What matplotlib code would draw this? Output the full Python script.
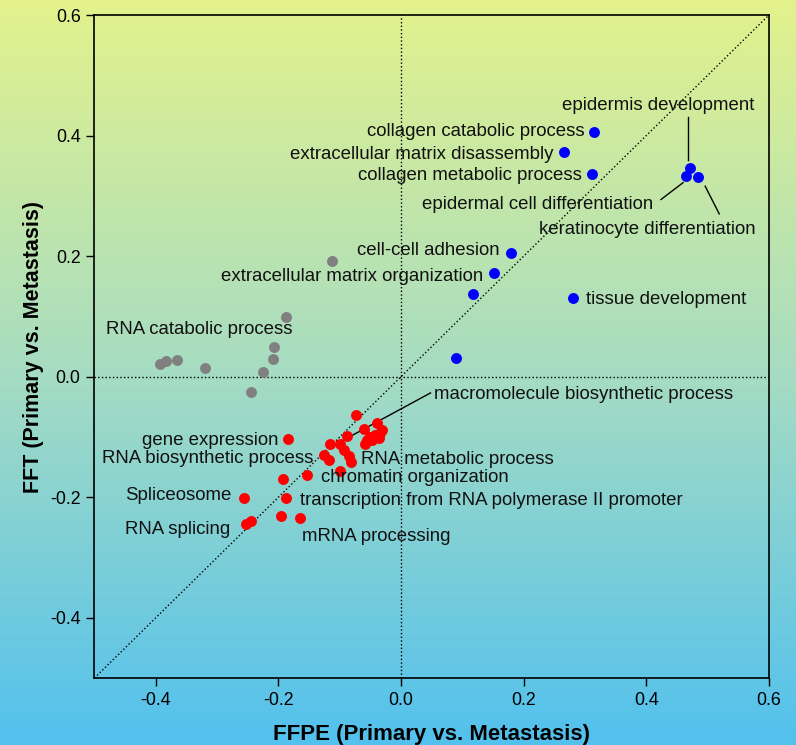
import numpy as np
import matplotlib.pyplot as plt
from matplotlib.colors import LinearSegmentedColormap

plt.rcParams['font.family'] = ['Liberation Sans', 'DejaVu Sans']

# up-regulated (blue), unchanged-ish (grey), down-regulated (red) GO terms
blue_x = [0.315, 0.265, 0.312, 0.471, 0.465, 0.484, 0.179, 0.152, 0.117, 0.281, 0.090]
blue_y = [0.406, 0.373, 0.337, 0.346, 0.333, 0.331, 0.205, 0.172, 0.137, 0.130, 0.031]

grey_x = [-0.393, -0.384, -0.366, -0.319, -0.188, -0.207, -0.209, -0.225, -0.245, -0.112]
grey_y = [0.021, 0.026, 0.028, 0.014, 0.099, 0.049, 0.030, 0.008, -0.025, 0.192]

red_x = [-0.073, -0.185, -0.088, -0.116, -0.100, -0.093, -0.125, -0.118, -0.085, -0.081,
         -0.099, -0.154, -0.192, -0.187, -0.256, -0.196, -0.164, -0.253, -0.244,
         -0.061, -0.039, -0.031, -0.050, -0.042, -0.034, -0.058, -0.047, -0.036, -0.055]
red_y = [-0.064, -0.104, -0.099, -0.112, -0.112, -0.122, -0.130, -0.138, -0.132, -0.141,
         -0.157, -0.163, -0.169, -0.202, -0.201, -0.232, -0.234, -0.245, -0.240,
         -0.086, -0.077, -0.089, -0.100, -0.097, -0.094, -0.111, -0.105, -0.102, -0.105]

xticks = [-0.4, -0.2, 0.0, 0.2, 0.4, 0.6]
yticks = [-0.4, -0.2, 0.0, 0.2, 0.4, 0.6]

fig = plt.figure(figsize=(7.96, 7.45), dpi=100)

# background gradient over the whole figure
bg = fig.add_axes([0, 0, 1, 1], zorder=-1)
cmap = LinearSegmentedColormap.from_list('bg', ['#e3f28c', '#a6dcc2', '#52c1ee'])
grad = np.linspace(0, 1, 256).reshape(-1, 1)
bg.imshow(grad, aspect='auto', cmap=cmap, extent=[0, 1, 0, 1], origin='upper')
bg.axis('off')

ax = fig.add_axes([0.1187, 0.0899, 0.8473, 0.8899])
ax.patch.set_alpha(0)

ax.axvline(0, color='black', ls=':', lw=1, zorder=1)
ax.axhline(0, color='black', ls=':', lw=1, zorder=1)
ax.plot([-0.5, 0.6], [-0.5, 0.6], color='black', ls=':', lw=1, zorder=1)

ax.scatter(grey_x, grey_y, s=62, color='#808080', lw=0, zorder=3)
ax.scatter(blue_x, blue_y, s=62, color='#0000ff', lw=0, zorder=3)
ax.scatter(red_x, red_y, s=62, color='#ff0000', lw=0, zorder=3)

fs = 13.4
labels = [
    ('epidermis development', 0.419, 0.450, 'center'),
    ('collagen catabolic process', 0.299, 0.407, 'right'),
    ('extracellular matrix disassembly', 0.248, 0.369, 'right'),
    ('collagen metabolic process', 0.295, 0.334, 'right'),
    ('epidermal cell differentiation', 0.411, 0.286, 'right'),
    ('keratinocyte differentiation', 0.402, 0.245, 'center'),
    ('cell-cell adhesion', 0.160, 0.210, 'right'),
    ('extracellular matrix organization', 0.134, 0.167, 'right'),
    ('tissue development', 0.302, 0.128, 'left'),
    ('RNA catabolic process', -0.481, 0.079, 'left'),
    ('macromolecule biosynthetic process', 0.054, -0.029, 'left'),
    ('gene expression', -0.200, -0.106, 'right'),
    ('RNA biosynthetic process', -0.488, -0.136, 'left'),
    ('RNA metabolic process', -0.066, -0.137, 'left'),
    ('chromatin organization', -0.131, -0.168, 'left'),
    ('Spliceosome', -0.450, -0.197, 'left'),
    ('transcription from RNA polymerase II promoter', -0.164, -0.205, 'left'),
    ('RNA splicing', -0.450, -0.253, 'left'),
    ('mRNA processing', -0.161, -0.265, 'left'),
]
for txt, tx, ty, ha in labels:
    ax.text(tx, ty, txt, ha=ha, va='center', fontsize=fs, color='#111111', zorder=4)

# leader lines
for (x0, y0), (x1, y1) in [((0.468, 0.431), (0.468, 0.360)),
                           ((0.424, 0.294), (0.460, 0.322)),
                           ((0.496, 0.316), (0.519, 0.270)),
                           ((-0.099, -0.108), (0.048, -0.027))]:
    ax.plot([x0, x1], [y0, y1], color='black', lw=1, zorder=2)

ax.set_xlim(-0.5, 0.6)
ax.set_ylim(-0.5, 0.6)
ax.set_xticks(xticks)
ax.set_yticks(yticks)
ax.set_xticklabels(['%.1f' % v for v in xticks])
ax.set_yticklabels(['%.1f' % v for v in yticks])
ax.tick_params(direction='out', length=6, width=1, labelsize=12.8, pad=4, colors='black')
for sp in ax.spines.values():
    sp.set_linewidth(1.2)

ax.set_xlabel('FFPE (Primary vs. Metastasis)', fontsize=16, fontweight='bold', labelpad=11)
ax.set_ylabel('FFT (Primary vs. Metastasis)', fontsize=15.5, fontweight='bold', labelpad=4)

fig.savefig('out.png', dpi=100)
